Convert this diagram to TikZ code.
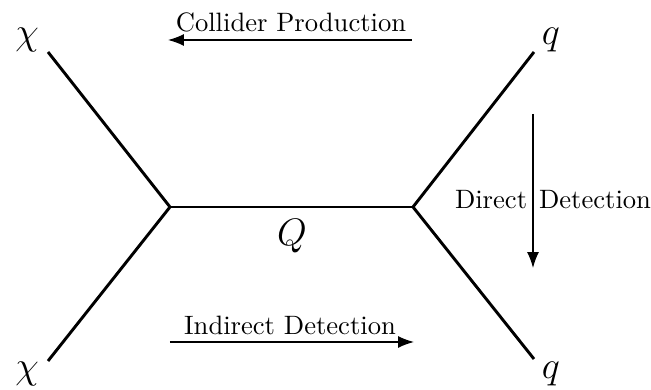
\documentclass[tikz,border=0pt]{standalone}
\usetikzlibrary{arrows.meta}
\begin{document}
\begin{tikzpicture}[x=0.376pt,y=-0.376pt,
  prop/.style={line width=1.1pt},
  flow/.style={line width=0.5pt,-{Latex[length=6pt,width=4.5pt]}},
  lbl/.style={inner sep=0pt},
  mlbl/.style={inner sep=0pt,font=\Large}]
\useasboundingbox (0,0) rectangle (651,390);
% vertices and external points
\coordinate (vl) at (170,207);
\coordinate (vr) at (413,207);
\coordinate (ul) at (48,52);
\coordinate (dl) at (48,361);
\coordinate (ur) at (534,52);
\coordinate (dr) at (534,359);
\draw[prop] (ul) -- (vl) -- (dl);
\draw[prop] (ur) -- (vr) -- (dr);
\draw[prop] (vl) -- (vr);
% particle labels
\node[mlbl] (chi1) at (27,40) {$\chi$};
\node[mlbl] (chi2) at (27,374) {$\chi$};
\node[mlbl] (q1) at (551,40) {$q$};
\node[mlbl] (q2) at (551,374) {$q$};
\node[mlbl] (Q) at (292,236) {$Q$};
% process arrows
\coordinate (cs) at (412,40);
\coordinate (ce) at (168,40);
\draw[flow] (cs) -- (ce);
\node[lbl] (ctext) at (291,22) {Collider Production};
\coordinate (ds) at (533,114);
\coordinate (de) at (533,268);
\draw[flow] (ds) -- (de);
\node[lbl] (dtext) at (553,200) {Direct\hspace{4.5pt}Detection};
\coordinate (is) at (170,342);
\coordinate (ie) at (414,342);
\draw[flow] (is) -- (ie);
\node[lbl] (itext) at (290,325) {Indirect Detection};
\end{tikzpicture}
\end{document}
